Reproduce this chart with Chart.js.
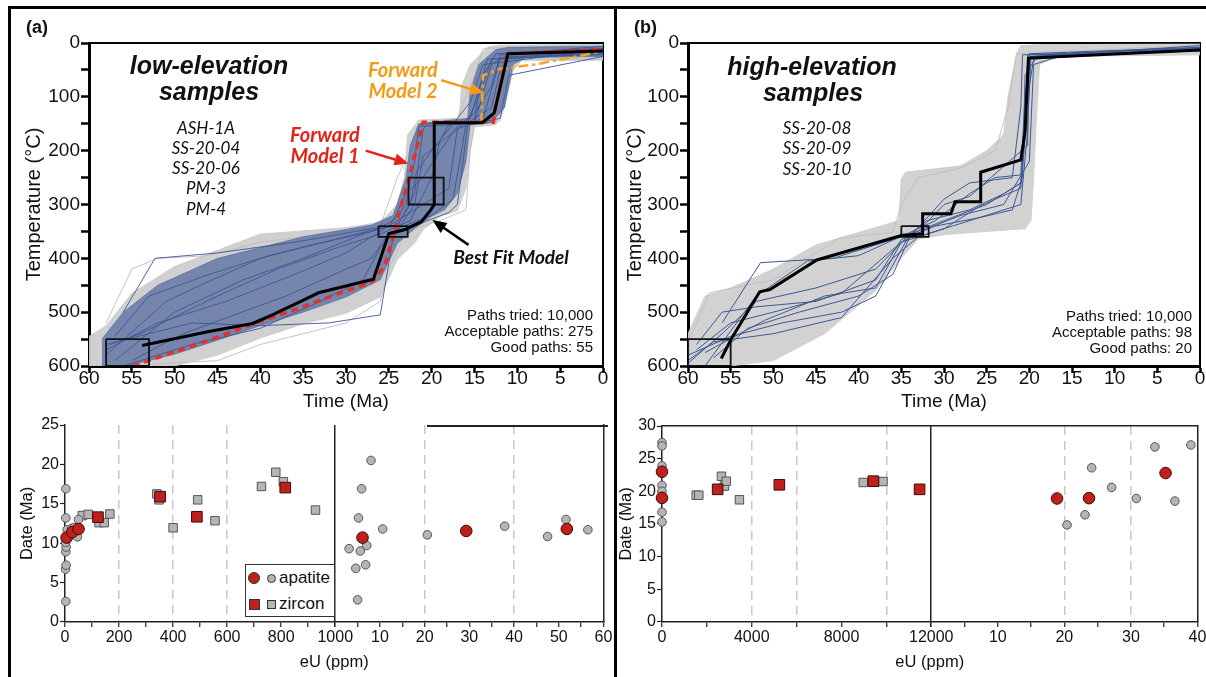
<!DOCTYPE html>
<html>
<head>
<meta charset="utf-8">
<script src="https://cdn.jsdelivr.net/npm/chart.js@4.4.0/dist/chart.umd.min.js"></script>
<style>
body{margin:0;background:#fff;width:1206px;height:677px;position:relative;overflow:hidden;font-family:"Liberation Sans",Arial,sans-serif;color:#111;}
canvas{position:absolute;}
.t{position:absolute;white-space:nowrap;transform:translate(-50%,-50%);}
.head{font-weight:bold;font-style:italic;font-size:25px;}
.samp{font-family:Lato,sans-serif;font-style:italic;font-size:17px;}
.fm{font-family:Lato,sans-serif;font-weight:bold;font-style:italic;font-size:20px;}
.paths{position:absolute;text-align:right;font-size:15px;line-height:16px;white-space:nowrap;}
.lab{position:absolute;font-weight:bold;font-size:18px;}
.line{position:absolute;background:#000;}
#leg{position:absolute;left:245px;top:564px;width:88px;height:51px;border:1.5px solid #333;background:#fff;}
#leg .mk{position:absolute;box-sizing:border-box;border:1px solid #333;}
#leg .tx{position:absolute;left:33px;font-size:17px;}
</style>
</head>
<body>
<canvas id="ba" width="612" height="277" style="left:0;top:400px"></canvas>
<canvas id="bb" width="594" height="277" style="left:612px;top:400px"></canvas>
<canvas id="ta" width="612" height="425" style="left:0;top:0"></canvas>
<canvas id="tb" width="594" height="425" style="left:612px;top:0"></canvas>

<div class="line" style="left:8px;top:6px;width:1198px;height:3px"></div>
<div class="line" style="left:8px;top:6px;width:3px;height:671px"></div>
<div class="line" style="left:614px;top:6px;width:3px;height:671px"></div>
<div class="line" style="left:427px;top:425px;width:181px;height:1.5px;background:#222"></div>

<div class="lab" style="left:26px;top:17px">(a)</div>
<div class="lab" style="left:634px;top:17px">(b)</div>

<div class="t head" style="left:209px;top:65px">low-elevation</div>
<div class="t head" style="left:209px;top:91px">samples</div>
<div class="t samp" style="left:206px;top:127px">ASH-1A</div>
<div class="t samp" style="left:206px;top:147px">SS-20-04</div>
<div class="t samp" style="left:206px;top:167px">SS-20-06</div>
<div class="t samp" style="left:206px;top:187px">PM-3</div>
<div class="t samp" style="left:206px;top:208px">PM-4</div>
<div class="t fm" style="left:403px;top:69px;color:#f39a16">Forward</div>
<div class="t fm" style="left:403px;top:90px;color:#f39a16">Model 2</div>
<div class="t fm" style="left:325px;top:134px;color:#e2231a">Forward</div>
<div class="t fm" style="left:325px;top:155px;color:#e2231a">Model 1</div>
<div class="t fm" style="left:511px;top:256px;font-size:19px">Best Fit Model</div>
<div class="paths" style="right:613px;top:307px">Paths tried: 10,000<br>Acceptable paths: 275<br>Good paths: 55</div>

<div class="t head" style="left:812px;top:66px">high-elevation</div>
<div class="t head" style="left:813px;top:92px">samples</div>
<div class="t samp" style="left:817px;top:127px">SS-20-08</div>
<div class="t samp" style="left:817px;top:147px">SS-20-09</div>
<div class="t samp" style="left:817px;top:168px">SS-20-10</div>
<div class="paths" style="right:14px;top:308px">Paths tried: 10,000<br>Acceptable paths: 98<br>Good paths: 20</div>

<div id="leg">
  <div class="mk" style="left:2px;top:7px;width:12px;height:12px;border-radius:50%;background:#c0201c"></div>
  <div class="mk" style="left:21px;top:9px;width:9px;height:9px;border-radius:50%;background:#b5b5b5"></div>
  <div class="tx" style="top:3px">apatite</div>
  <div class="mk" style="left:3px;top:34px;width:11px;height:11px;background:#c0201c"></div>
  <div class="mk" style="left:21px;top:35px;width:9px;height:9px;background:#b5b5b5"></div>
  <div class="tx" style="top:29px">zircon</div>
</div>

<script>
Chart.defaults.font.family = '"Liberation Sans", Arial, sans-serif';
Chart.defaults.color = '#111';

// ---- top panels: time-temperature paths, [time Ma, temperature C]
const bestFitA = [[53.8,562],[46,536],[40.9,521],[38.6,505],[35.4,481],[33.2,464],[26.8,439],[25,354],[23.2,347],[21.2,332],[20.1,310],[19.7,300],[19.7,148],[14.1,148],[12.7,130],[11.1,20],[0,15]];
const forward1A = [[54.9,600],[46,552],[40.5,520],[35,490],[31,466],[27,445],[25.5,415],[24.4,355],[23.6,304],[22.7,255],[21,147],[12.8,147],[12.6,124],[11.2,20],[0,12]];
const forward2A = [[14.2,148],[14,60],[12,48],[8,40],[4,28],[0,15]];
const boxesA = [[58,550,53,600],[26.2,340,22.8,360],[22.7,250,18.6,300]];
const blueUpperA = [[0,6],[11,8],[12.5,12],[14.5,40],[15.5,90],[15.8,140],[21.5,150],[22.5,190],[23,250],[24.5,320],[27,338],[35,360],[45,400],[52,450],[56,500],[58.5,550]];
const blueLowerA = [[0,25],[9,27],[10.5,40],[11.5,120],[13,148],[15.5,152],[16,220],[17,280],[18.5,310],[20,322],[22,345],[24,372],[26,440],[30,472],[35,500],[40,525],[45,552],[50,578],[55,598],[58.5,600]];
const greyUpperA = [[0,3],[12,4],[13.5,8],[15.5,40],[16.5,80],[16.8,140],[21.5,143],[22.8,170],[23.2,250],[24,300],[26,333],[30,343],[40,355],[50,415],[55,465],[58,525],[60,545]];
const greyLowerA = [[0,32],[9.5,33],[10.5,50],[11.5,120],[12.5,152],[15,156],[15.5,200],[16,270],[17,312],[19,322],[21,347],[22,372],[24,402],[26,472],[30,502],[35,522],[40,548],[45,580],[50,600],[60,600]];
const bluePathsA = [
  [[57,590],[50,500],[42,440],[35,400],[28,355],[25,340],[23,300],[22,220],[21.5,155],[16,150],[14.5,100],[13,30],[0,18]],
  [[58,570],[52,520],[44,480],[36,430],[30,390],[26,350],[24,330],[21,300],[18,270],[17,160],[15.5,140],[14,60],[12.5,20],[0,10]],
  [[56,600],[48,560],[40,530],[33,480],[28,440],[26,380],[24,345],[20,320],[17.5,290],[16.5,200],[16,150],[13,120],[12,50],[11,25],[0,22]],
  [[57.5,560],[54,540],[45,470],[38,420],[31,380],[26,355],[22.5,330],[20,250],[19,180],[18,152],[15,145],[14.5,90],[13.5,30],[0,14]],
  [[58,580],[51,480],[47,450],[40,400],[34,375],[27,350],[24.5,330],[23,280],[21,250],[19,200],[17,155],[15,130],[13,80],[12,22],[0,6]],
  [[56,500],[52.3,400],[45,390],[36,370],[27,345],[24,340],[22,280],[21,160],[20.5,150],[15,148],[13,40],[11,20],[0,10]],
  [[58,560],[48,520],[40,525],[32,520],[26,505],[24.5,360],[22,300],[21,210],[17,160],[14,140],[12,30],[0,20]],
  [[57,545],[53,470],[46,430],[39,395],[32,368],[27,348],[24,338],[22.5,300],[21.8,240],[20,200],[18.5,170],[17.5,150],[15.5,110],[14,40],[0,12]],
  [[55,590],[49,540],[43,505],[37,470],[30,420],[27,400],[25.5,365],[23.5,350],[20.5,330],[18,315],[17,300],[16.5,240],[15.8,152],[12,140],[11,60],[0,25]]
];
const greyPathsA = [
  [[58,520],[55,420],[52,400],[46,395],[40,370],[30,350],[26,340],[24,250],[22,180],[21.5,150],[17,140],[15,60],[14,10],[0,3]],
  [[57,600],[45,590],[40,560],[35,540],[30,520],[28,500],[26,480],[25,420],[23,350],[19,330],[16,310],[15.5,200],[15,150],[12,145],[10.5,50],[9.5,30],[0,30]]
];
const arrowsA = [
  {from:[18.9,69], to:[13.9,93], color:'#f39a16'},
  {from:[27.7,200], to:[22.7,224], color:'#e2231a'},
  {from:[15.7,375], to:[19.9,329], color:'#000'}
];

const bestFitB = [[56.1,586],[54.9,549],[51.6,462],[50.4,458],[44.9,403],[34.9,357],[32.5,355],[32.5,317],[29.2,317],[28.7,295],[25.7,295],[25.7,240],[21,217],[20.5,165],[20.1,28],[0,13]];
const boxesB = [[60,550,55,600],[35,340,31.8,360]];
const greyUpperB = [[0,2],[19,3],[21,5],[21.5,20],[22.5,100],[23,170],[25,200],[28,228],[34.5,240],[35,252],[35.3,330],[40,352],[45,375],[50,420],[55,455],[58,470],[60,540]];
const greyLowerB = [[0,22],[17,25],[18.8,40],[19.2,150],[19.5,250],[19.8,330],[20.5,345],[25,350],[30,356],[33,364],[35,400],[38,460],[44,540],[50,590],[55,600],[60,600]];
const bluePathsB = [
  [[60,595],[56,540],[52,480],[45,455],[38,420],[34,355],[30,330],[25,300],[21,260],[20.5,150],[20,20],[12,15],[0,8]],
  [[59,570],[55,520],[50,500],[42,465],[35,370],[32,345],[28,320],[23,300],[20,220],[19.5,40],[15,18],[0,10]],
  [[58,600],[52,470],[46,405],[40,395],[34,352],[31,330],[27,280],[24,250],[21,245],[20.5,100],[20,25],[0,14]],
  [[60,590],[57,555],[50,540],[42,510],[36,400],[33,360],[29,340],[25,320],[21,300],[20.3,180],[19.8,25],[0,5]],
  [[57,585],[53,530],[47,500],[40,470],[36,430],[34,360],[30,290],[27,260],[22,250],[21,120],[20.8,22],[10,18],[0,12]],
  [[59,560],[56,500],[52,490],[45,480],[38,440],[35,365],[31,340],[26,325],[22,310],[20.8,250],[20.5,60],[19,22],[0,15]],
  [[58,575],[51,515],[44,470],[38,455],[35,370],[30,345],[26,305],[24,290],[21,270],[20.4,120],[19.5,30],[0,8]],
  [[56,520],[51.5,408],[43,400],[36,365],[33,350],[30,300],[27,285],[20.2,190],[20,30],[0,12]],
  [[60,580],[55,545],[49,520],[42,500],[38,470],[34,355],[32,330],[27,310],[23,280],[21,260],[20.6,200],[20.2,22],[0,10]]
];
const greyPathsB = [
  [[60,560],[57.5,464],[50,440],[42.2,362],[36,352],[35,300],[33,250],[28,232],[24,200],[22.5,120],[21.5,20],[0,4]]
];

// ---- bottom panels: [eU ppm, date Ma]
const apatiteRedA = [[6,10.7],[27,11.4],[50,11.8]];
const apatiteGreyA = [[3,16.9],[3,13.2],[3,2.6],[2,6.7],[4,7.2],[3,8.9],[4,9.5],[3,10.1],[8,11.7],[18,10.9],[25,11.9],[36,12.0],[46,10.8],[50,13.0]];
const zirconRedA = [[122,13.3],[352,15.9],[488,13.35],[815,17.05]];
const zirconGreyA = [[64,13.5],[86,13.65],[126,12.6],[145,12.6],[166,13.7],[340,16.25],[348,15.5],[400,11.95],[491,15.5],[555,12.85],[727,17.2],[780,19.0],[808,17.8],[927,14.2]];
const apatiteRedA2 = [[6.1,10.7],[29.3,11.55],[51.8,11.8]];
const apatiteGreyA2 = [[3.1,9.3],[4.6,6.8],[5.0,2.8],[5.2,13.2],[5.6,9.0],[5.9,16.9],[6.8,7.25],[7.05,9.7],[8.0,20.5],[10.6,11.8],[20.6,11.05],[37.9,12.15],[47.5,10.85],[51.6,13.0],[56.5,11.7]];

const apatiteRedB = [[0,23.0],[0,19.0]];
const apatiteGreyB = [[0,27.45],[0,26.95],[0,23.9],[0,20.9],[0,20.0],[0,16.8],[0,15.3]];
const zirconRedB = [[2480,20.3],[5230,21.0],[9420,21.55],[11480,20.3]];
const zirconGreyB = [[1525,19.4],[1640,19.4],[2650,22.3],[2780,20.8],[2865,21.55],[3450,18.7],[8970,21.35],[9850,21.5]];
const apatiteRedB2 = [[18.9,18.9],[23.7,18.95],[35.2,22.8]];
const apatiteGreyB2 = [[20.4,14.85],[23.1,16.4],[24.1,23.6],[27.1,20.6],[30.8,18.9],[33.6,26.8],[36.6,18.5],[39.0,27.1]];

const dashedA1 = [200,400,600], dashedA2 = [20,40];
const dashedB1 = [4000,6000,10000], dashedB2 = [20,30];

const pts = a => a.map(p => ({x:p[0], y:p[1]}));
const boxPts = b => [[b[0],b[1]],[b[2],b[1]],[b[2],b[3]],[b[0],b[3]],[b[0],b[1]]];
const noPad = s => { s.paddingLeft = 0; s.paddingRight = 0; };

function lineDs(data, color, width, extra) {
  return Object.assign({data: pts(data), borderColor: color, borderWidth: width, pointRadius: 0, fill: false, tension: 0}, extra || {});
}

const arrowPlugin = {
  id: 'arrows',
  afterDatasetsDraw(chart, args, opts) {
    const {ctx, scales} = chart;
    (opts.list || []).forEach(a => {
      const x0 = scales.x.getPixelForValue(a.from[0]), y0 = scales.y.getPixelForValue(a.from[1]);
      const x1 = scales.x.getPixelForValue(a.to[0]), y1 = scales.y.getPixelForValue(a.to[1]);
      const ang = Math.atan2(y1 - y0, x1 - x0), c = Math.cos(ang), s = Math.sin(ang);
      ctx.save();
      ctx.strokeStyle = a.color; ctx.fillStyle = a.color; ctx.lineWidth = 2.5;
      ctx.beginPath(); ctx.moveTo(x0, y0); ctx.lineTo(x1 - 10*c, y1 - 10*s); ctx.stroke();
      ctx.beginPath(); ctx.moveTo(x1, y1);
      ctx.lineTo(x1 - 14*c + 6*s, y1 - 14*s - 6*c);
      ctx.lineTo(x1 - 14*c - 6*s, y1 - 14*s + 6*c);
      ctx.closePath(); ctx.fill();
      ctx.restore();
    });
  }
};

function topChart(id, yWidth, titlePad, padRight, datasets, arrows) {
  return new Chart(document.getElementById(id), {
    type: 'line',
    data: {datasets: datasets},
    plugins: [arrowPlugin],
    options: {
      responsive: false, animation: false, events: [],
      layout: {padding: {top: 43, right: padRight, left: 0, bottom: 0}},
      plugins: {legend: {display: false}, tooltip: {enabled: false}, arrows: {list: arrows}},
      scales: {
        x: {type: 'linear', reverse: true, min: 0, max: 60,
            ticks: {stepSize: 5, font: {size: 19}, padding: -6, maxRotation: 0, autoSkip: false, color: '#111'},
            grid: {drawOnChartArea: false, tickLength: 7, tickWidth: 2.5, tickColor: '#000'},
            border: {width: 3, color: '#000'},
            title: {display: true, text: 'Time (Ma)', font: {size: 19}, padding: {top: 0, bottom: 12}},
            afterFit: s => { s.height = 59; noPad(s); }},
        y: {type: 'linear', reverse: true, min: 0, max: 600,
            ticks: {stepSize: 50, font: {size: 19}, padding: 1, color: '#111', callback: v => v % 100 === 0 ? v : ''},
            grid: {drawOnChartArea: false, tickLength: 8, tickWidth: 2.5, tickColor: '#000'},
            border: {width: 3, color: '#000'},
            title: {display: true, text: 'Temperature (°C)', font: {size: 20}, padding: {top: titlePad, bottom: 0}},
            afterFit: s => { s.width = yWidth; }},
        xt: {type: 'linear', position: 'top', min: 0, max: 60, ticks: {display: false},
             grid: {drawOnChartArea: false, drawTicks: false, color: 'transparent'},
             border: {width: 2, color: '#000'}, afterFit: s => { s.height = 0; noPad(s); }},
        yr: {type: 'linear', position: 'right', min: 0, max: 600, ticks: {display: false},
             grid: {drawOnChartArea: false, drawTicks: false, color: 'transparent'},
             border: {width: 2, color: '#000'}, afterFit: s => { s.width = 0; }}
      }
    }
  });
}

const BLUE = '#3c5793', GREY = '#c9c9c9';

// datasets are listed front to back (first one is drawn on top)
const dsA = [lineDs(bestFitA, '#000', 3)];
boxesA.forEach(b => dsA.push(lineDs(boxPts(b), '#111', 1.8)));
dsA.push(lineDs(forward1A, '#e0322a', 3.5, {borderDash: [7, 5]}));
dsA.push(lineDs(forward2A, '#f5a623', 2.5, {borderDash: [10, 4, 3, 4]}));
bluePathsA.forEach(p => dsA.push(lineDs(p, BLUE, 0.9)));
dsA.push(lineDs(blueUpperA, 'rgba(60,87,147,0.6)', 0.8, {fill: '+1', backgroundColor: 'rgba(70,94,152,0.66)'}));
dsA.push(lineDs(blueLowerA, 'rgba(60,87,147,0.6)', 0.8));
greyPathsA.forEach(p => dsA.push(lineDs(p, '#bdbdbd', 0.9)));
dsA.push(lineDs(greyUpperA, GREY, 0.8, {fill: '+1', backgroundColor: 'rgba(205,205,205,0.95)'}));
dsA.push(lineDs(greyLowerA, GREY, 0.8));
topChart('ta', 89, 22, 9, dsA, arrowsA);

const dsB = [lineDs(bestFitB, '#000', 3)];
boxesB.forEach(b => dsB.push(lineDs(boxPts(b), '#111', 1.8)));
bluePathsB.forEach(p => dsB.push(lineDs(p, BLUE, 1)));
greyPathsB.forEach(p => dsB.push(lineDs(p, '#bdbdbd', 0.9)));
dsB.push(lineDs(greyUpperB, GREY, 0.8, {fill: '+1', backgroundColor: 'rgba(208,208,208,0.95)'}));
dsB.push(lineDs(greyLowerB, GREY, 0.8));
topChart('tb', 76, 11, 6, dsB, []);

// ---- bottom charts
function sc(data, axis, kind) {
  const red = kind.startsWith('red');
  const sq = kind.endsWith('sq');
  return {data: pts(data), xAxisID: axis, clip: false,
    pointStyle: sq ? 'rect' : 'circle',
    pointRadius: sq ? (red ? 7.5 : 6) : (red ? 5.8 : 4.3),
    backgroundColor: red ? '#c0201c' : '#b5b5b5',
    borderColor: red ? '#3a0b08' : '#555', borderWidth: 1};
}

function bottomChart(id, yWidth, yMax, titlePad, padTop, padRight, x1, x2, datasets, topBorder) {
  const xCommon = (o) => Object.assign({type: 'linear', position: 'bottom', stack: 'eu', offset: false,
    border: {width: 1.5, color: '#222', dash: c => (c.tick && c.tick.value === 0 && o.solidZero) ? [] : (c.tick ? [9, 6] : [])},
    afterFit: s => { s.height = 27.3; noPad(s); }}, o.cfg);
  const scales = {
    x1: xCommon({cfg: {min: 0, max: x1.max, stackWeight: x1.weight,
      ticks: {stepSize: x1.step, font: {size: 16}, padding: 1, maxRotation: 0, autoSkip: false, color: '#111', callback: v => v % x1.label === 0 ? v : ''},
      grid: {color: c => x1.dashed.includes(c.tick.value) ? '#c8c8c8' : 'transparent', lineWidth: 1.5, tickLength: 5, tickColor: '#222', tickWidth: 1.2}}}),
    x2: xCommon({solidZero: true, cfg: {min: 0, max: x2.max, stackWeight: x2.weight,
      ticks: {stepSize: 5, font: {size: 16}, padding: 1, maxRotation: 0, autoSkip: false, color: '#111', callback: v => (v > 0 && v % 10 === 0) ? v : ''},
      grid: {color: c => c.tick.value === 0 ? '#222' : (x2.dashed.includes(c.tick.value) ? '#c8c8c8' : 'transparent'), lineWidth: 1.5, tickLength: 5, tickColor: '#222', tickWidth: 1.2}}}),
    y: {type: 'linear', min: 0, max: yMax,
        ticks: {stepSize: 5, font: {size: 16}, padding: 1, color: '#111'},
        grid: {drawOnChartArea: false, tickLength: 5, tickColor: '#222', tickWidth: 1.2},
        border: {width: 1.5, color: '#222'},
        title: {display: true, text: 'Date (Ma)', font: {size: 16.5}, padding: {top: titlePad, bottom: 0}},
        afterFit: s => { s.width = yWidth; }},
    yr: {type: 'linear', position: 'right', min: 0, max: yMax, ticks: {display: false},
         grid: {drawOnChartArea: false, drawTicks: false, color: 'transparent'},
         border: {width: 1.5, color: '#222'}, afterFit: s => { s.width = 0; }}
  };
  if (topBorder) {
    scales.xt = {type: 'linear', position: 'top', min: 0, max: 1, ticks: {display: false},
      grid: {drawOnChartArea: false, drawTicks: false, color: 'transparent'},
      border: {width: 1.5, color: '#222'}, afterFit: s => { s.height = 0; noPad(s); }};
  }
  return new Chart(document.getElementById(id), {
    type: 'scatter',
    data: {datasets: datasets},
    options: {
      responsive: false, animation: false, events: [],
      layout: {padding: {top: padTop, right: padRight, left: 0, bottom: 0}},
      plugins: {legend: {display: false}, tooltip: {enabled: false},
        title: {display: true, position: 'bottom', fullSize: false, text: 'eU (ppm)', font: {size: 16.5, weight: 'normal'}, color: '#111', padding: {top: 3, bottom: 5}}},
      scales: scales
    }
  });
}

bottomChart('ba', 65, 25, 18, 25, 5,
  {max: 1000, step: 100, label: 200, weight: 272, dashed: dashedA1},
  {max: 60, weight: 270, dashed: dashedA2},
  [sc(apatiteRedA, 'x1', 'red'), sc(apatiteRedA2, 'x2', 'red'), sc(zirconRedA, 'x1', 'redsq'),
   sc(apatiteGreyA, 'x1', 'grey'), sc(apatiteGreyA2, 'x2', 'grey'), sc(zirconGreyA, 'x1', 'greysq')], false);

bottomChart('bb', 50, 30, 5, 26, 1,
  {max: 12000, step: 2000, label: 4000, weight: 273, dashed: dashedB1},
  {max: 40, weight: 270, dashed: dashedB2},
  [sc(apatiteRedB, 'x1', 'red'), sc(apatiteRedB2, 'x2', 'red'), sc(zirconRedB, 'x1', 'redsq'),
   sc(apatiteGreyB, 'x1', 'grey'), sc(apatiteGreyB2, 'x2', 'grey'), sc(zirconGreyB, 'x1', 'greysq')], true);
</script>
</body>
</html>
